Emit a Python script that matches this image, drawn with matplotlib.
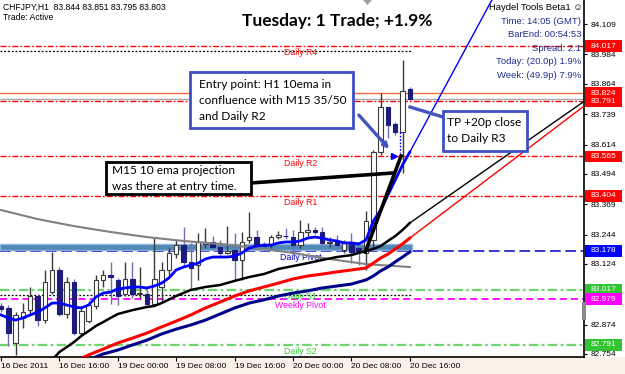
import matplotlib
matplotlib.use('Agg')
import matplotlib.pyplot as plt
from matplotlib.patches import Rectangle, Polygon, FancyArrowPatch
from matplotlib.lines import Line2D

# H1 candles, bar 0 = 16 Dec 08:00 (weekend hours skipped)
opens = [82.950, 82.943, 82.800, 82.900, 82.934, 82.990, 82.893, 83.010, 83.099, 82.920,
         83.050, 82.840, 82.890, 82.950, 83.058, 83.080, 83.058, 83.000, 83.060, 83.000,
         83.000, 82.960, 83.030, 83.100, 83.165, 83.200, 83.130, 83.120, 83.205, 83.215,
         83.194, 83.170, 83.181, 83.140, 83.220, 83.236, 83.200, 83.200, 83.236, 83.240,
         83.236, 83.200, 83.256, 83.262, 83.255, 83.210, 83.215, 83.181, 83.215, 83.190,
         83.170, 83.220, 83.585, 83.767, 83.698, 83.664, 83.844]
highs = [82.965, 82.955, 82.925, 82.963, 83.030, 83.000, 83.100, 83.174, 83.110, 83.070,
         83.060, 82.950, 82.970, 83.080, 83.100, 83.130, 83.065, 83.130, 83.130, 83.110,
         83.015, 83.230, 83.130, 83.190, 83.220, 83.275, 83.210, 83.250, 83.270, 83.240,
         83.222, 83.280, 83.250, 83.256, 83.338, 83.263, 83.215, 83.242, 83.260, 83.270,
         83.263, 83.304, 83.290, 83.275, 83.275, 83.235, 83.242, 83.220, 83.250, 83.215,
         83.340, 83.590, 83.827, 83.770, 83.705, 83.961, 83.851]
lows = [82.925, 82.787, 82.750, 82.860, 82.920, 82.870, 82.880, 83.000, 82.910, 82.900,
        82.830, 82.830, 82.880, 82.940, 83.030, 82.960, 82.955, 82.990, 82.985, 82.980,
        82.950, 82.950, 82.970, 83.080, 83.150, 83.120, 83.020, 83.058, 83.190, 83.185,
        83.160, 83.165, 83.058, 83.058, 83.210, 83.190, 83.180, 83.190, 83.225, 83.225,
        83.160, 83.190, 83.240, 83.245, 83.200, 83.195, 83.185, 83.170, 83.128, 83.119,
        83.100, 83.190, 83.571, 83.641, 83.655, 83.496, 83.795]
closes = [82.940, 82.840, 82.915, 82.925, 82.990, 82.893, 83.050, 83.099, 82.920, 83.050,
          82.840, 82.930, 82.955, 83.058, 83.080, 83.070, 82.990, 83.060, 83.000, 83.003,
          82.960, 83.060, 83.100, 83.170, 83.200, 83.130, 83.108, 83.215, 83.212, 83.194,
          83.167, 83.175, 83.140, 83.215, 83.236, 83.200, 83.197, 83.236, 83.243, 83.238,
          83.200, 83.256, 83.262, 83.255, 83.210, 83.215, 83.200, 83.210, 83.174, 83.174,
          83.300, 83.585, 83.767, 83.694, 83.664, 83.835, 83.803]

# moving averages
ema_blue = [82.914, 82.902, 82.893, 82.902, 82.914, 82.926, 82.943, 82.963, 82.963, 82.955,
            82.947, 82.943, 82.955, 82.988, 83.004, 83.008, 83.021, 83.025, 83.029, 83.029,
            83.025, 83.033, 83.045, 83.066, 83.099, 83.111, 83.119, 83.127, 83.144, 83.152,
            83.152, 83.152, 83.156, 83.169, 83.189, 83.197, 83.201, 83.201, 83.210, 83.214,
            83.214, 83.218, 83.230, 83.234, 83.230, 83.222, 83.218, 83.210, 83.210, 83.206,
            83.222, 83.300, 83.345, 83.407, 83.468, 83.530, 83.583]
grey_x = [0, 5, 10, 15, 20, 25, 30, 35, 40, 45, 50, 56]
grey_y = [83.345, 83.308, 83.279, 83.255, 83.234, 83.218, 83.206, 83.189, 83.169, 83.144, 83.123, 83.111]
black_x = [7, 8, 9, 10, 11, 12, 13, 14, 15, 16, 18, 20, 21, 22, 24, 26, 28, 30, 32, 34, 36, 38,
           40, 42, 44, 46, 48, 49, 50, 51, 52, 53, 54, 55, 56]
black_y = [82.729, 82.762, 82.782, 82.803, 82.828, 82.848, 82.869, 82.885, 82.902, 82.918, 82.934,
           82.947, 82.951, 82.963, 82.992, 83.017, 83.029, 83.037, 83.054, 83.070, 83.082, 83.103,
           83.115, 83.127, 83.140, 83.152, 83.160, 83.169, 83.177, 83.185, 83.197, 83.218, 83.238,
           83.263, 83.292]
red_x = [11, 12, 14, 16, 18, 20, 22, 24, 26, 28, 30, 32, 34, 36, 38, 40, 42, 44, 46, 48, 50,
         51, 52, 53, 54, 55, 56]
red_y = [82.737, 82.750, 82.774, 82.799, 82.819, 82.840, 82.865, 82.889, 82.914, 82.943, 82.967,
         82.992, 83.013, 83.029, 83.045, 83.062, 83.074, 83.082, 83.091, 83.099, 83.107, 83.127,
         83.148, 83.164, 83.185, 83.206, 83.230]
navy_x = [12, 13, 14, 16, 18, 20, 22, 24, 26, 28, 30, 32, 34, 36, 38, 40, 42, 44, 46, 48, 50,
          51, 52, 53, 54, 55, 56]
navy_y = [82.729, 82.742, 82.754, 82.770, 82.791, 82.811, 82.836, 82.856, 82.873, 82.893, 82.918,
          82.943, 82.963, 82.976, 82.992, 83.004, 83.013, 83.025, 83.033, 83.041, 83.058, 83.074,
          83.095, 83.111, 83.132, 83.152, 83.173]

# projections / trend lines
proj_blue_x, proj_blue_y = [56, 68], [83.583, 84.25]
proj_black_x, proj_black_y = [56, 80], [83.292, 83.794]
proj_red_x, proj_red_y = [56, 80], [83.230, 83.775]
m15_flat_x, m15_flat_y = [34.1, 53.6], [83.456, 83.497]
m15_steep_x, m15_steep_y = [49.9, 54.8], [83.173, 83.567]

# pivot levels (R3 label is hidden behind the callout in the original)
levels = {'Daily R4': 84.017, 'Daily R3': 83.791, 'Daily R2': 83.565, 'Daily R1': 83.404,
          'Daily Pivot': 83.178, 'Daily S1': 83.017, 'Weekly Pivot': 82.979, 'Daily S2': 82.791}
upper_dot, lower_dot = 84.000, 82.998
orange_lvl, bid_lvl = 83.824, 83.803
zone_lo, zone_hi = 83.180, 83.205

tick_prices = [84.109, 83.984, 83.864, 83.739, 83.614, 83.494, 83.369, 83.244, 83.124, 82.874, 82.754]
x_ticks = [0, 8, 16, 24, 32, 40, 48, 56]
x_labels = ['16 Dec 2011', '16 Dec 16:00', '19 Dec 00:00', '19 Dec 08:00', '19 Dec 16:00',
            '20 Dec 00:00', '20 Dec 08:00', '20 Dec 16:00']

AX = 'Liberation Sans'
W, H = 625, 374


def fpx(x, y):
    return x / W, 1 - y / H


fig = plt.figure(figsize=(6.25, 3.74), dpi=100)
fig.add_artist(Rectangle((0, 0), 1, 17 / H, transform=fig.transFigure, fc='#faf1e8', ec='none', zorder=-1))
ax = fig.add_axes([0, 17 / H, 584 / W, 357 / H])
ax.set_xlim(-0.137, 79.86)
ax.set_ylim(82.7415, 84.2076)
for s in ['top', 'left']:
    ax.spines[s].set_visible(False)
ax.spines['right'].set_linewidth(1.2)
ax.spines['bottom'].set_linewidth(1.2)

# horizontal levels
rdash = (4.3, 1.5, 1.2, 1.5)
for name in ['Daily R4', 'Daily R3', 'Daily R2', 'Daily R1']:
    ax.axhline(levels[name], color='#ff0000', lw=1, dashes=rdash, zorder=1)
for name in ['Daily S1', 'Daily S2']:
    ax.axhline(levels[name], color='#6fd66f', lw=1.6, dashes=rdash, zorder=1)
ax.axhline(levels['Weekly Pivot'], color='#ff00ff', lw=1.3, dashes=(4, 2.2), zorder=1)
ax.axhline(levels['Daily Pivot'], color='#0000cc', lw=1.1, dashes=(7, 3), zorder=1)
ax.axhline(orange_lvl, color='#f26b3a', lw=1, zorder=1)
ax.axhline(bid_lvl, color='#a8a8a8', lw=1, zorder=1)
ax.plot([-0.2, 56.3], [upper_dot] * 2, color='black', lw=0.9, dashes=(1.5, 1.5), zorder=1)
ax.plot([-0.2, 56.3], [lower_dot] * 2, color='black', lw=0.9, dashes=(1.5, 1.5), zorder=1)
ax.add_patch(Rectangle((-0.2, zone_lo), 56.5, zone_hi - zone_lo, fc='#4682b4', ec='#8fb4d6',
                       lw=1, alpha=0.95, zorder=1.5))

label_col = {'Daily R4': '#ff0000', 'Daily R2': '#ff0000',
             'Daily R1': '#ff0000', 'Daily Pivot': '#0000cc', 'Daily S1': '#33cc33',
             'Weekly Pivot': '#ff00ff', 'Daily S2': '#33cc33'}
for name, col in label_col.items():
    ax.annotate(name, (41, levels[name]), xytext=(0, -1.5), textcoords='offset points',
                ha='center', va='top', fontsize=6.3, color=col, family=AX, zorder=2)

# candles
for j in range(len(opens)):
    o, h, l, c = opens[j], highs[j], lows[j], closes[j]
    bull = c >= o
    wick = '#3a3a3a' if bull else '#7070b0'
    ax.vlines(j, l, h, color=wick, lw=1, zorder=3)
    bot = min(o, c)
    ht = max(abs(c - o), 0.002)
    ax.bar(j, ht, bottom=bot, width=0.62, color='white' if bull else '#1c1c7c',
           edgecolor='#3a3a3a' if bull else '#1c1c7c', lw=0.8, zorder=3.1)

# moving averages
ax.plot(grey_x, grey_y, color='#808080', lw=1.5, zorder=4)
ax.plot(navy_x, navy_y, color='#00008b', lw=2.2, zorder=4)
ax.plot(red_x, red_y, color='#ff0000', lw=2.2, zorder=4)
ax.plot(black_x, black_y, color='black', lw=1.8, zorder=4)
ax.plot(range(len(ema_blue)), ema_blue, color='#0000ff', lw=2, zorder=4.2)
ax.plot(proj_blue_x, proj_blue_y, color='#0000ff', lw=1, zorder=4)
ax.plot(proj_black_x, proj_black_y, color='black', lw=1, zorder=4)
ax.plot(proj_red_x, proj_red_y, color='#ff0000', lw=1, zorder=4)
ax.plot(m15_flat_x, m15_flat_y, color='black', lw=2.6, zorder=5)
ax.plot(m15_steep_x, m15_steep_y, color='black', lw=2.6, zorder=5)
ax.plot([54.6, 54.6], [83.664, 83.578], color='#0000ff', lw=1, dashes=(1.2, 1.2), zorder=5)
ax.plot([53.9], [83.566], marker='>', ms=4, color='#0000ff', zorder=5)

# axes ticks
ax.yaxis.tick_right()
ax.set_yticks(tick_prices)
ax.set_yticklabels([f'{p:.3f}' for p in tick_prices], fontsize=6, family=AX)
ax.tick_params(axis='y', length=2.2, pad=2.5, width=0.8)
ax.set_xticks(x_ticks)
ax.set_xticklabels(x_labels, fontsize=6, family=AX)
for t in ax.get_xticklabels():
    t.set_ha('left')
ax.tick_params(axis='x', length=3, pad=1.5, width=0.8)

# price boxes on the right scale
yt = ax.get_yaxis_transform()
boxes = [(84.017, '#ff0000'), (83.824, '#ff0000'), (83.791, '#ff0000'), (83.565, '#ff0000'),
         (83.404, '#ff0000'), (83.178, '#0000ff'), (83.017, '#33c433'), (82.979, '#ff00ff'),
         (82.791, '#33c433')]
for p, col in boxes:
    ax.add_patch(Rectangle((1.002, p - 0.0245), 0.063, 0.049, transform=yt, fc=col, ec='none',
                           clip_on=False, zorder=6))
    ax.text(1.0335, p, f'{p:.3f}', transform=yt, ha='center', va='center', color='white',
            fontsize=6, family=AX, zorder=6.1, clip_on=False)

# header texts
fig.text(*fpx(3, 7), 'CHFJPY,H1  83.844 83.851 83.795 83.803', fontsize=6.2, family=AX,
         va='center', ha='left')
fig.text(*fpx(3, 18), 'Trade: Active', fontsize=6.2, family=AX, va='center', ha='left')
fig.text(*fpx(337, 21), 'Tuesday: 1 Trade; +1.9%', fontsize=12.5, family='Lato',
         weight='bold', ha='center', va='center', zorder=11)
fig.text(*fpx(583, 7), 'Haydel Tools Beta1 \u263a', fontsize=6.8,
         family=[AX, 'DejaVu Sans'], ha='right', va='center', zorder=11)
info = ['Time: 14:05 (GMT)', 'BarEnd: 00:54:53', 'Spread: 2.1', 'Today: (20.0p) 1.9%',
        'Week: (49.9p) 7.9%']
for k, s in enumerate(info):
    fig.text(*fpx(581, 21.5 + 13.4 * k), s, fontsize=6.8, family=AX, color='#1f2f8f',
             ha='right', va='center', zorder=11)

# callout boxes
blue_edge = '#3f4fc4'
callouts = [((190, 72, 163, 56), blue_edge, 199, [84, 100.5, 117],
             ['Entry point: H1 10ema in', 'confluence with M15 35/50', 'and Daily R2']),
            ((106, 162, 145, 32), 'black', 112, [170, 186],
             ['M15 10 ema projection', 'was there at entry time.']),
            ((443, 111, 84, 40), blue_edge, 447, [122, 138.5],
             ['TP +20p close', 'to Daily R3'])]
for (x, y, w, h), ec, tx, tys, lines in callouts:
    fig.add_artist(Rectangle(fpx(x, y + h), w / W, h / H, transform=fig.transFigure,
                             fc='white', ec=ec, lw=2, zorder=10))
    for ty, s in zip(tys, lines):
        fig.text(*fpx(tx, ty), s, fontsize=8.6, family='Lato', ha='left', va='center', zorder=11)

fig.add_artist(FancyArrowPatch(fpx(357, 113), fpx(391, 151), transform=fig.transFigure,
                               arrowstyle='-|>', mutation_scale=7, lw=2.4, color='#4455c0',
                               zorder=9))
fig.add_artist(Line2D([410 / W, 443 / W], [1 - 107 / H, 1 - 117 / H], transform=fig.transFigure,
                      lw=2.4, color='#4455c0', zorder=9))

# chart shift marks
fig.add_artist(Polygon([fpx(363, 0), fpx(372, 0), fpx(367.5, 5)], closed=True,
                       transform=fig.transFigure, fc='#a0a0a0', ec='none', zorder=9))
fig.add_artist(Rectangle(fpx(582, 320), 4 / W, 18 / H, transform=fig.transFigure,
                         fc='#8a8a8a', ec='none', zorder=9))

fig.savefig('out.png', dpi=100)
